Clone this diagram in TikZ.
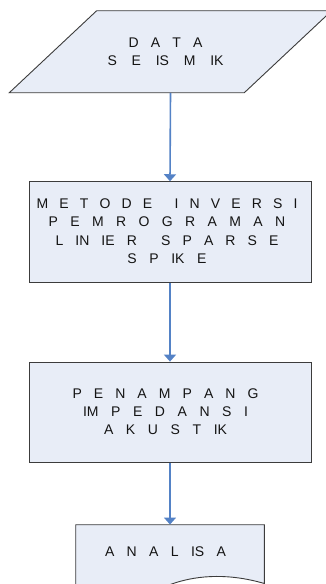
\documentclass[tikz,border=0pt]{standalone}
\usepackage{fontspec}
\setmainfont{Liberation Sans}
\usetikzlibrary{arrows.meta}
\definecolor{shfill}{RGB}{232,237,247}
\definecolor{shline}{RGB}{60,60,60}
\definecolor{arblue}{RGB}{84,130,198}
\newcommand\spl[2]{\makebox[#1][s]{#2}}
\begin{document}
\begin{tikzpicture}[x=1pt,y=-1pt,
  shapebox/.style={draw=shline,fill=shfill,line width=0.9pt,inner sep=0pt},
  shapeline/.style={draw=shline,fill=shfill,line width=0.9pt,line join=miter},
  lbl/.style={font=\fontsize{14}{18.3}\selectfont,align=center,inner sep=0pt,text=black!92},
  flow/.style={draw=arblue,line width=1.6pt,-{Triangle[width=12pt,length=7pt]}}]
\fill[white] (0,0) rectangle (325,584);
\useasboundingbox (0,0) rectangle (325,584);
% shapes
\node[minimum width=235pt,minimum height=82pt,inner sep=0pt] (data) at (170.5,51.7) {};
\draw[shapeline] (9.3,92.7) -- (96.7,10.7) -- (331.7,10.7) -- (244.3,92.7) -- cycle;
\node[shapebox,minimum width=282pt,minimum height=100.6pt] (meth) at (170,232) {};
\node[shapebox,minimum width=282pt,minimum height=100.3pt] (imp) at (170,412.2) {};
\node[minimum width=188.6pt,minimum height=70pt,inner sep=0pt] (doc) at (170,559.7) {};
\draw[shapeline]
  (75.7,600) -- (75.7,524.7) -- (264.3,524.7) -- (264.3,583.5)
  .. controls (232,574) and (200,574) .. (171.7,584)
  .. controls (140,595) and (105,600) .. (75.7,592) -- cycle;
% texts
\node[lbl] (tdata) at (165.5,52) {\spl{74pt}{D A T A}\\\spl{116pt}{S E IS M IK}};
\node[lbl] (tmeth) at (167,231.2) {\spl{261pt}{M E T O D E\ \ I N V E R S I}\\
  \spl{236.6pt}{P E M R O G R A M A N}\\
  \spl{223pt}{L IN IE R\ \ S P A R S E}\\
  \spl{79pt}{S P IK E}};
\node[lbl] (timp) at (165.5,411.5) {\spl{186pt}{P E N A M P A N G}\\
  \spl{165pt}{IM P E D A N S I}\\
  \spl{123pt}{A K U S T IK}};
\node[lbl] (tdoc) at (165.5,551.5) {\spl{121pt}{A N A L IS A}};
% connectors
\draw[flow] (data.south) -- (meth.north);
\draw[flow] (meth.south) -- (imp.north);
\draw[flow] (imp.south) -- (doc.north);
\end{tikzpicture}
\end{document}
